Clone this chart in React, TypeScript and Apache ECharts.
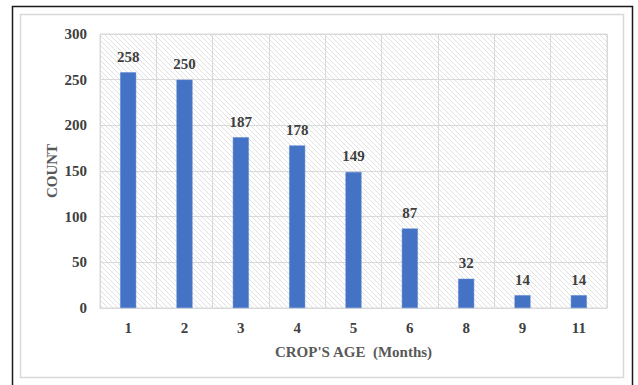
import React, { useEffect, useRef } from "react";
import * as echarts from "echarts";

const categories = ["1", "2", "3", "4", "5", "6", "8", "9", "11"];
const counts = [258, 250, 187, 178, 149, 87, 32, 14, 14];
const yTicks = { min: 0, max: 300, interval: 50 };

// Diagonal hatch tile for the plot-area background
function makeHatch(): HTMLCanvasElement {
  const size = 5;
  const c = document.createElement("canvas");
  c.width = size;
  c.height = size;
  const ctx = c.getContext("2d")!;
  ctx.fillStyle = "#ffffff";
  ctx.fillRect(0, 0, size, size);
  ctx.strokeStyle = "#dedede";
  ctx.lineWidth = 0.9;
  ctx.beginPath();
  ctx.moveTo(-1, -1);
  ctx.lineTo(size + 1, size + 1);
  ctx.moveTo(-1, size - 1);
  ctx.lineTo(1, size + 1);
  ctx.moveTo(size - 1, -1);
  ctx.lineTo(size + 1, 1);
  ctx.stroke();
  return c;
}

export default function App() {
  const ref = useRef<HTMLDivElement>(null);

  useEffect(() => {
    if (!ref.current) return;
    const chart = echarts.init(ref.current, null, { renderer: "svg" });
    const font = "Times New Roman, Liberation Serif, Tinos, serif";
    chart.setOption({
      animation: false,
      backgroundColor: "#ffffff",
      textStyle: { fontFamily: font },
      graphic: [
        {
          type: "rect",
          shape: { x: 12.5, y: 6.5, width: 620, height: 400 },
          style: { fill: "none", stroke: "#1a1a1a", lineWidth: 1.5 },
          z: 100,
        },
        {
          type: "rect",
          shape: { x: 20.5, y: 14.5, width: 603, height: 363 },
          style: { fill: "none", stroke: "#d9d9d9", lineWidth: 1.5 },
          z: 100,
        },
      ],
      grid: {
        left: 100,
        right: 31,
        top: 34,
        bottom: 77,
        show: true,
        borderColor: "#d9d9d9",
        borderWidth: 1,
        backgroundColor: { image: makeHatch(), repeat: "repeat" },
      },
      xAxis: {
        type: "category",
        data: categories,
        name: "CROP'S AGE  (Months)",
        nameLocation: "middle",
        nameGap: 36,
        nameMoveOverlap: false,
        nameTextStyle: { fontFamily: font, fontWeight: "bold", fontSize: 15, color: "#595959" },
        axisLine: { show: true, lineStyle: { color: "#d9d9d9", width: 1 } },
        axisTick: { show: false },
        axisLabel: { fontFamily: font, fontWeight: "bold", fontSize: 15, color: "#404040", margin: 12 },
        splitLine: { show: true, lineStyle: { color: "#d9d9d9", width: 1 } },
      },
      yAxis: {
        type: "value",
        min: yTicks.min,
        max: yTicks.max,
        interval: yTicks.interval,
        name: "COUNT",
        nameLocation: "middle",
        nameGap: 41,
        nameMoveOverlap: false,
        nameTextStyle: { fontFamily: font, fontWeight: "bold", fontSize: 15, color: "#595959" },
        axisLine: { show: false },
        axisTick: { show: false },
        axisLabel: { fontFamily: font, fontWeight: "bold", fontSize: 15, color: "#404040", margin: 13 },
        splitLine: { show: true, lineStyle: { color: "#d9d9d9", width: 1 } },
      },
      series: [
        {
          type: "bar",
          data: counts,
          barWidth: 16,
          itemStyle: { color: "#4472C4", borderColor: "#5a86d0", borderWidth: 0.5 },
          label: {
            show: true,
            position: "top",
            distance: 8,
            fontFamily: font,
            fontWeight: "bold",
            fontSize: 15,
            color: "#404040",
          },
        },
      ],
    });
    return () => chart.dispose();
  }, []);

  return (
    <div
      ref={ref}
      style={{ position: "fixed", left: 0, top: 0, width: 638, height: 385 }}
    />
  );
}
